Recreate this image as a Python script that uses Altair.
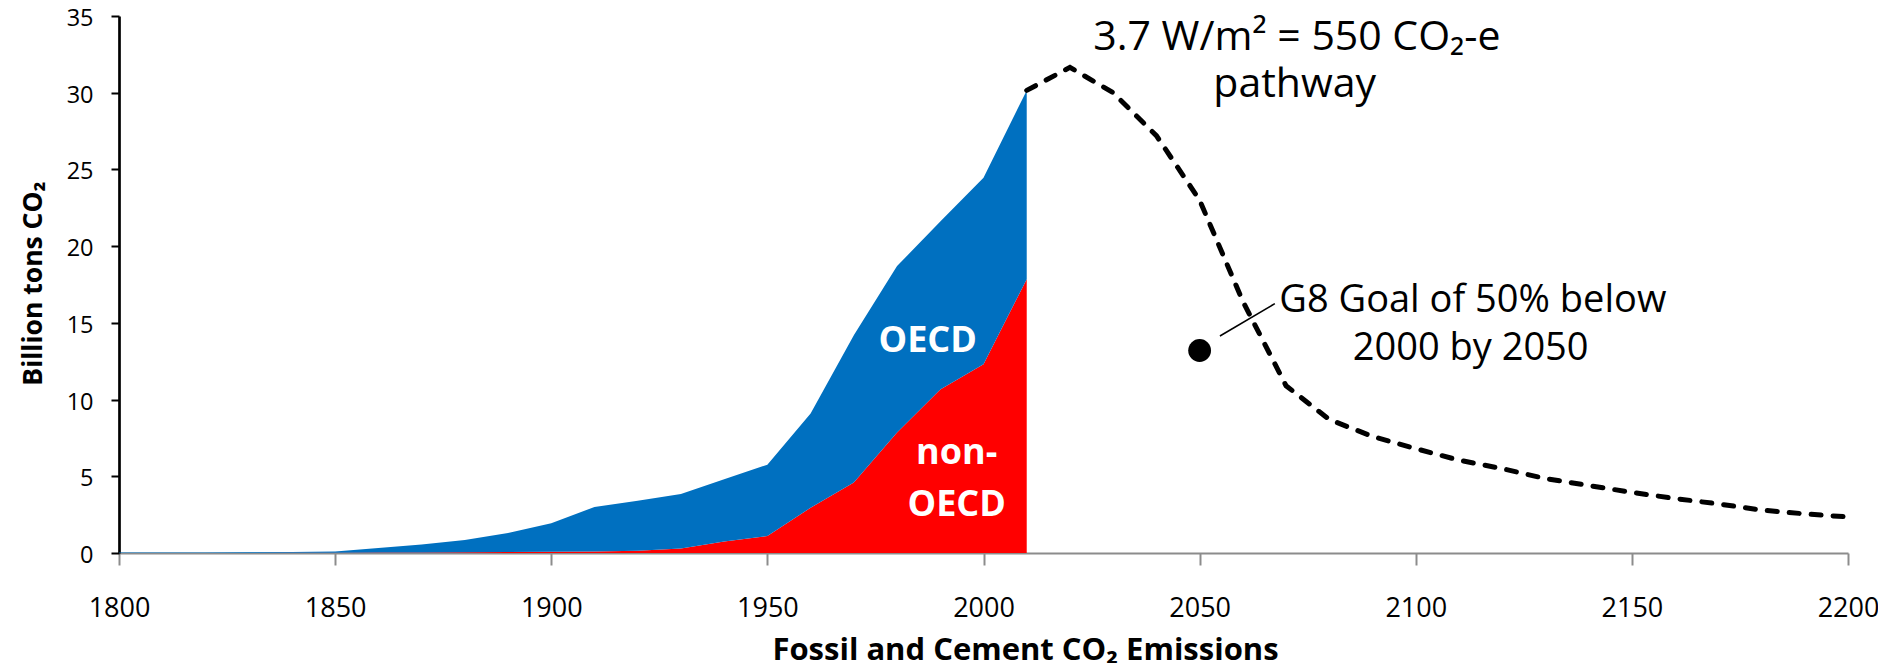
import altair as alt
import pandas as pd

# ---- data ----
hist_years = [1800, 1810, 1820, 1830, 1840, 1850, 1860, 1870, 1880, 1890, 1900,
              1910, 1920, 1930, 1940, 1950, 1960, 1970, 1980, 1990, 2000, 2010]
non_oecd = [0.0, 0.0, 0.0, 0.0, 0.01, 0.02, 0.03, 0.04, 0.05, 0.06, 0.08,
            0.1, 0.15, 0.3, 0.75, 1.1, 2.95, 4.6, 7.85, 10.65, 12.3, 17.85]
total_hist = [0.03, 0.03, 0.04, 0.05, 0.06, 0.1, 0.33, 0.55, 0.85, 1.3, 1.94,
              3.0, 3.4, 3.85, 4.8, 5.76, 9.1, 14.2, 18.7, 21.6, 24.45, 30.15]

path_years = [2010, 2020, 2030, 2040, 2050, 2060, 2070, 2080, 2090, 2100,
              2110, 2120, 2130, 2140, 2150, 2160, 2170, 2180, 2190, 2200]
path_values = [30.15, 31.65, 30.0, 27.2, 23.0, 16.4, 10.9, 8.7, 7.6, 6.8,
               6.05, 5.5, 4.85, 4.4, 3.95, 3.55, 3.2, 2.8, 2.55, 2.35]

goal_year = [2050]
goal_value = [13.2]

leader_x = [2054.7, 2067.4]
leader_y = [14.14, 16.25]

title_text = ["3.7 W/m² = 550 CO₂-e", "pathway"]
title_x = [2072.5, 2072.0]
title_y = [32.76, 29.70]

goal_text = ["G8 Goal of 50% below", "2000 by 2050"]
goal_text_x = [2113.2, 2112.7]
goal_text_y = [15.71, 12.56]

area_label_text = ["OECD", "non-", "OECD"]
area_label_x = [1987.1, 1993.8, 1993.8]
area_label_y = [13.08, 5.78, 2.39]

x_ticks = [1800, 1850, 1900, 1950, 2000, 2050, 2100, 2150, 2200]
y_ticks = [0, 5, 10, 15, 20, 25, 30, 35]

# ---- tables ----
hist = pd.DataFrame({"year": hist_years, "non_oecd": non_oecd, "total": total_hist})
path = pd.DataFrame({"year": path_years, "value": path_values})
goal = pd.DataFrame({"year": goal_year, "value": goal_value})
leader = pd.DataFrame({"x0": [leader_x[0]], "x1": [leader_x[1]],
                       "y0": [leader_y[0]], "y1": [leader_y[1]]})
titles = pd.DataFrame({"year": title_x, "value": title_y, "text": title_text})
goal_lab = pd.DataFrame({"year": goal_text_x, "value": goal_text_y, "text": goal_text})
area_lab = pd.DataFrame({"year": area_label_x, "value": area_label_y, "text": area_label_text})

FONT = "Open Sans"

xscale = alt.Scale(domain=[1800, 2200], nice=False, zero=False)
yscale = alt.Scale(domain=[0, 35], nice=False)

xaxis = alt.Axis(
    title="Fossil and Cement CO₂ Emissions", values=x_ticks, format="d",
    labelFont=FONT, labelFontSize=27, labelColor="black", labelPadding=30,
    labelFlush=False, labelOverlap=False,
    tickSize=12, tickColor="#8c8c8c", tickWidth=2,
    domainColor="#8c8c8c", domainWidth=2, grid=False,
    titleFont=FONT, titleFontSize=31, titleFontWeight="bold", titleColor="black",
    titleX=906, titleY=106, titleAlign="center", titleBaseline="alphabetic",
)
yaxis = alt.Axis(
    title="Billion tons CO₂", values=y_ticks,
    labelFont=FONT, labelFontSize=23.5, labelColor="black", labelPadding=18,
    labelOffset=2.5,
    tickSize=8, tickColor="black", tickWidth=2,
    domainColor="black", domainWidth=2.7, grid=False,
    titleFont=FONT, titleFontSize=26.5, titleFontWeight="bold", titleColor="black",
    titleAngle=270, titleX=-78, titleY=267, titleAlign="center", titleBaseline="alphabetic",
)


def X(field):
    return alt.X(field, type="quantitative", scale=xscale, axis=xaxis)


def Y(field):
    return alt.Y(field, type="quantitative", scale=yscale, axis=yaxis)


red_area = alt.Chart(hist).mark_area(color="#FF0000", opacity=1).encode(
    x=X("year"), y=Y("non_oecd")
)
blue_area = alt.Chart(hist).mark_area(color="#0070C0", opacity=1).encode(
    x=X("year"), y=Y("total"), y2=alt.Y2("non_oecd")
)
dashed = alt.Chart(path).mark_line(
    color="black", strokeWidth=5, strokeDash=[10, 12], strokeCap="round"
).encode(x=X("year"), y=Y("value"))

goal_pt = alt.Chart(goal).mark_circle(size=520, color="black", opacity=1).encode(
    x=X("year"), y=Y("value")
)
leader_rule = alt.Chart(leader).mark_rule(color="black", strokeWidth=1.6).encode(
    x=X("x0"), x2=alt.X2("x1"), y=Y("y0"), y2=alt.Y2("y1")
)
title_layer = alt.Chart(titles).mark_text(
    font=FONT, fontSize=41, color="black", align="center", baseline="alphabetic"
).encode(x=X("year"), y=Y("value"), text="text:N")

goal_text_layer = alt.Chart(goal_lab).mark_text(
    font=FONT, fontSize=38, color="black", align="center", baseline="alphabetic"
).encode(x=X("year"), y=Y("value"), text="text:N")

area_text_layer = alt.Chart(area_lab).mark_text(
    font=FONT, fontSize=36, fontWeight="bold", color="white", align="center", baseline="alphabetic"
).encode(x=X("year"), y=Y("value"), text="text:N")

chart = alt.layer(
    red_area, blue_area, dashed, leader_rule, goal_pt,
    title_layer, goal_text_layer, area_text_layer
).properties(
    width=1729, height=537,
    autosize=alt.AutoSizeParams(type="none"),
    padding={"left": 111, "top": 8, "right": 30, "bottom": 110},
    background="white",
).configure_view(stroke=None)

chart.save("out.html", embed_options={"renderer": "svg", "actions": False})
